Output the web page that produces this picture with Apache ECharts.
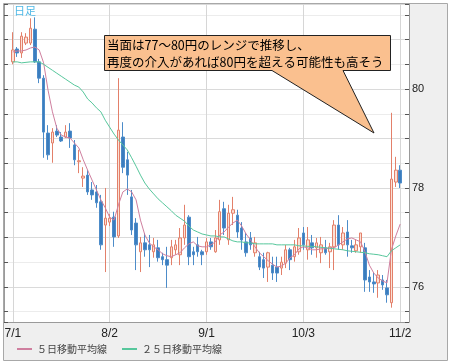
<!DOCTYPE html>
<html><head><meta charset="utf-8">
<script src="https://cdn.jsdelivr.net/npm/echarts@6/dist/echarts.min.js"></script>
<style>html,body{margin:0;padding:0;background:#fff}#c{width:453px;height:364px}</style>
</head><body><div id="c"></div><script>
const dates = ("7/1 7/4 7/5 7/6 7/7 7/8 7/11 7/12 7/13 7/14 7/15 7/18 7/19 7/20 7/21 7/22 7/25 7/26 7/27 7/28 7/29 " +
  "8/1 8/2 8/3 8/4 8/5 8/8 8/9 8/10 8/11 8/12 8/15 8/16 8/17 8/18 8/19 8/22 8/23 8/24 8/25 8/26 8/29 8/30 8/31 " +
  "9/1 9/2 9/5 9/6 9/7 9/8 9/9 9/12 9/13 9/14 9/15 9/16 9/19 9/20 9/21 9/22 9/23 9/26 9/27 9/28 9/29 9/30 " +
  "10/3 10/4 10/5 10/6 10/7 10/10 10/11 10/12 10/13 10/14 10/17 10/18 10/19 10/20 10/21 10/24 10/25 10/26 10/27 10/28 10/31 " +
  "11/1 11/2").split(" ");

const opens = [80.55,80.81,80.73,80.93,80.93,81.21,80.55,80.22,79.11,78.91,79.15,79.03,79.03,79.15,78.87,78.53,78.20,78.26,77.96,77.92,
  77.72,77.25,77.31,77.41,77.03,79.03,78.57,77.82,77.29,76.71,76.89,76.85,76.71,76.79,76.61,76.55,76.59,76.75,76.65,76.99,
  77.41,76.71,76.85,76.71,76.71,76.91,76.71,76.95,77.58,76.95,77.49,77.45,77.19,76.91,76.99,76.69,76.61,76.55,76.40,76.44,
  76.40,76.38,76.48,76.75,76.61,76.71,77.09,76.75,76.89,76.79,76.69,76.79,76.71,76.81,77.25,76.85,77.11,76.83,76.73,76.81,
  76.79,76.20,76.10,76.08,76.14,75.98,75.68,78.12,78.36];
const closes = [80.79,80.73,81.07,81.05,81.23,80.55,80.22,79.13,78.67,79.13,79.07,78.95,79.13,79.01,78.57,78.55,78.24,77.92,77.86,77.70,
  76.85,77.39,77.39,77.01,79.17,78.42,78.26,77.15,76.85,76.89,76.75,76.75,76.85,76.59,76.55,76.44,76.81,76.85,76.99,77.25,
  76.61,76.65,76.71,76.65,76.91,76.81,76.99,77.52,77.19,77.49,77.56,77.11,76.95,76.69,76.85,76.89,76.40,76.38,76.69,76.28,
  76.28,76.50,76.75,76.55,76.81,76.99,76.85,76.95,76.79,76.89,76.85,76.69,76.81,77.25,76.85,77.09,76.85,76.79,76.85,77.09,
  76.14,76.10,76.06,76.24,76.04,75.84,78.18,78.36,78.10];
const lows = [80.50,80.65,80.63,80.89,80.89,80.53,80.12,78.61,78.57,78.51,79.03,78.93,79.01,78.81,78.46,78.30,78.02,77.86,77.76,77.60,
  76.75,76.30,77.23,76.81,76.99,78.30,77.86,77.05,76.34,76.30,76.61,76.40,76.59,76.51,76.44,75.98,76.44,76.65,76.44,76.85,
  76.44,76.44,76.61,76.44,76.65,76.75,76.69,76.85,77.05,76.85,77.25,76.99,76.75,76.61,76.75,76.61,76.34,76.18,76.10,76.14,
  76.10,76.24,76.38,76.34,76.51,76.65,76.75,76.55,76.65,76.59,76.48,76.65,76.38,76.34,76.75,76.75,76.61,76.69,76.69,76.69,
  75.90,75.90,75.88,75.78,75.94,75.68,75.58,78.02,78.00];
const highs = [81.15,80.85,81.15,81.13,81.43,81.45,80.61,80.28,79.27,79.21,79.27,79.13,79.27,79.31,78.97,78.77,78.42,78.36,78.12,78.06,
  77.86,78.00,77.47,77.52,80.22,79.33,78.73,77.96,77.39,77.01,77.09,77.05,76.99,76.95,76.69,76.81,76.95,76.95,77.19,77.66,
  77.45,76.81,77.01,76.75,76.99,76.99,77.15,77.76,77.72,77.66,77.82,77.56,77.31,77.09,77.11,77.01,76.71,76.69,76.71,76.61,
  76.61,76.61,76.85,76.79,76.95,77.19,77.21,77.21,77.05,76.99,77.01,76.95,76.89,77.35,77.45,77.21,77.35,76.95,76.95,77.09,
  76.89,76.34,76.28,76.34,76.24,76.14,79.52,78.63,78.46];
const ma5 = [80.75,80.77,80.77,80.79,80.83,80.85,80.79,80.53,79.98,79.54,79.21,79.07,79.03,79.01,78.91,78.81,78.57,78.36,78.16,77.96,
  77.76,77.60,77.41,77.35,77.66,77.92,77.98,77.92,77.76,77.35,77.05,76.89,76.81,76.75,76.67,76.63,76.61,76.65,76.69,76.79,
  76.87,76.91,76.83,76.81,76.81,76.85,76.91,77.05,77.11,77.21,77.29,77.35,77.23,77.07,76.95,76.81,76.69,76.61,76.53,76.46,
  76.40,76.42,76.48,76.59,76.65,76.77,76.81,76.79,76.75,76.75,76.77,76.77,76.79,76.79,76.85,76.91,76.97,76.99,76.95,76.91,
  76.71,76.44,76.28,76.18,76.12,76.08,76.75,77.03,77.27];
const ma25 = [80.55,80.55,80.53,80.54,80.55,80.55,80.55,80.50,80.44,80.38,80.32,80.26,80.20,80.14,80.08,80.04,79.94,79.80,79.72,79.62,
  79.54,79.37,79.23,79.09,78.97,78.87,78.77,78.61,78.44,78.26,78.10,77.98,77.88,77.78,77.70,77.62,77.54,77.45,77.39,77.33,
  77.23,77.15,77.11,77.07,77.05,77.03,77.03,77.01,77.01,76.97,76.93,76.91,76.91,76.89,76.89,76.87,76.87,76.87,76.87,76.87,
  76.85,76.85,76.85,76.85,76.85,76.83,76.83,76.82,76.82,76.81,76.80,76.79,76.78,76.77,76.76,76.75,76.73,76.72,76.71,76.70,
  76.69,76.67,76.66,76.65,76.63,76.61,76.73,76.79,76.85];

const yTickLabels = [76, 78, 80];
const xTickLabels = ["7/1", "8/2", "9/1", "10/3", "11/2"];
const legendNames = ["５日移動平均線", "２５日移動平均線"];
const titleText = "日足";
const noteText = "当面は77～80円のレンジで推移し、\n再度の介入があれば80円を超える可能性も高そう";

const cats = ["_a", "_b"].concat(dates, ["_c", "_d"]);
const pad = a => ["-", "-"].concat(a, ["-", "-"]);
const candleData = pad(dates.map((d, i) => [opens[i], closes[i], lows[i], highs[i]]));

const yBase = { type: "value", min: 75.29, max: 81.72, splitNumber: 13, minInterval: 0.5, maxInterval: 0.5 };

const chart = echarts.init(document.getElementById("c"), null, { renderer: "canvas" });
chart.setOption({
  animation: false,
  backgroundColor: "#fff",
  title: { text: titleText, left: 14, top: 5, padding: 0,
    textStyle: { fontSize: 11, color: "#4fb8e6", fontWeight: "normal", fontFamily: "Noto Sans CJK JP" } },
  grid: { left: 4, top: 4, width: 405, height: 318, show: true, backgroundColor: "#fff", borderWidth: 0 },
  legend: { data: legendNames, left: 17, top: 344, padding: 0, icon: "rect", itemWidth: 15, itemHeight: 2, itemGap: 15,
    textStyle: { fontSize: 10, color: "#444", fontFamily: "Noto Sans CJK JP" } },
  xAxis: {
    type: "category", data: cats, boundaryGap: false,
    axisLine: { show: true, lineStyle: { color: "#9a9a9a" } },
    axisTick: { show: false },
    axisLabel: { interval: (i, v) => xTickLabels.includes(v), color: "#222", fontSize: 12, margin: 6, fontFamily: "Liberation Sans" },
    splitLine: { show: true, interval: (i, v) => xTickLabels.includes(v), lineStyle: { color: "#d6d6d6" } }
  },
  yAxis: [
    Object.assign({}, yBase, {
      position: "right",
      axisLine: { show: true, lineStyle: { color: "#9a9a9a" } },
      axisTick: { show: true, inside: true, length: 4, lineStyle: { color: "#555" } },
      axisLabel: { formatter: v => yTickLabels.some(t => Math.abs(t - v) < 1e-6) ? String(Math.round(v)) : "",
        margin: 3, color: "#222", fontSize: 11, fontFamily: "Liberation Sans" },
      splitLine: { show: true, lineStyle: { color: ["#dadada", "#ececec"] } }
    }),
    Object.assign({}, yBase, {
      position: "left",
      axisLine: { show: true, lineStyle: { color: "#9a9a9a" } },
      axisTick: { show: true, inside: true, length: 4, lineStyle: { color: "#555" } },
      axisLabel: { show: false },
      splitLine: { show: false }
    })
  ],
  graphic: [
    { type: "rect", z: -10, shape: { x: 3.5, y: 3.5, width: 444, height: 357 },
      style: { fill: "#efefef", stroke: "#a8a8a8", lineWidth: 1 } },
    { type: "polygon", z: 100,
      shape: { points: [[104.5, 35.5], [390.5, 35.5], [390.5, 70.5], [343, 70.5], [374, 133], [272, 70.5], [104.5, 70.5]] },
      style: { fill: "#fac08f", stroke: "#222", lineWidth: 1 } },
    { type: "text", z: 101, x: 107, y: 37,
      style: { text: noteText, fontSize: 12.5, lineHeight: 16.5, fill: "#000", fontFamily: "Noto Sans CJK JP" } }
  ],
  series: [
    { type: "candlestick", data: candleData, barWidth: 3,
      itemStyle: { color: "#fbe1d6", color0: "#3b7dbe", borderColor: "#e3806a", borderColor0: "#4d8cc9", borderWidth: 1 } },
    { name: legendNames[0], type: "line", data: pad(ma5), symbol: "none", z: 3,
      lineStyle: { width: 1, color: "#cf7f9f" }, itemStyle: { color: "#cf7f9f" } },
    { name: legendNames[1], type: "line", data: pad(ma25), symbol: "none", z: 3,
      lineStyle: { width: 1, color: "#57c79c" }, itemStyle: { color: "#57c79c" } }
  ]
});
</script></body></html>
